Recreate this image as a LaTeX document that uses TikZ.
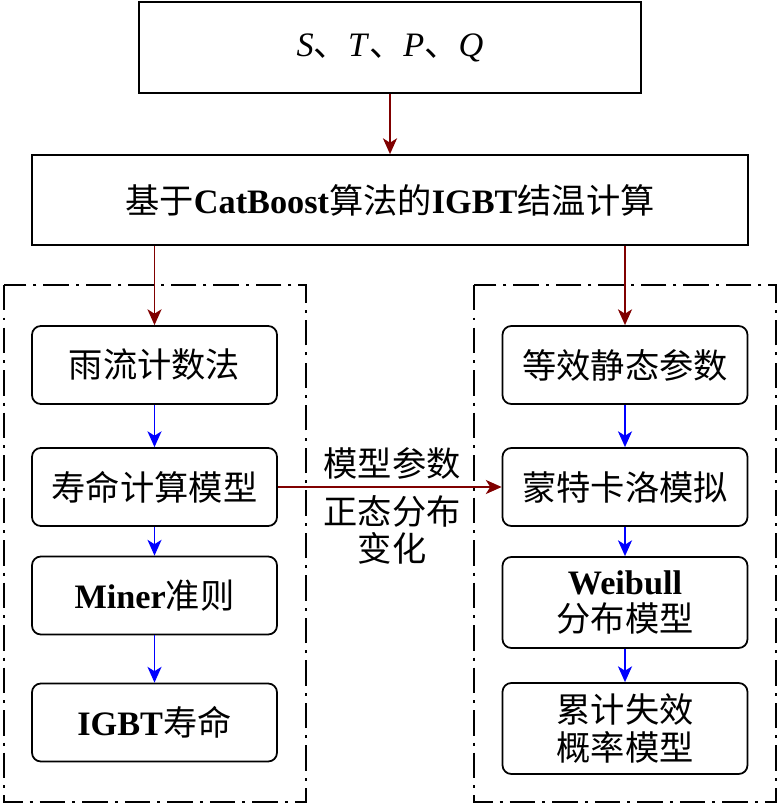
\documentclass[tikz,border=0pt]{standalone}
\usepackage{fontspec}
\setmainfont{Liberation Serif}
\newfontfamily\cjk{Noto Sans CJK SC}
\usetikzlibrary{arrows.meta,positioning}
\definecolor{FlowRed}{HTML}{800000}
\definecolor{FlowBlue}{HTML}{0000FF}
\newcommand{\zh}[1]{{\cjk #1}}
\tikzset{
  every picture/.append style={font=\fontsize{19.5}{21.5}\selectfont, >=Stealth},
  blk/.style={rectangle, draw=black, line width=1pt, align=center, inner sep=2pt},
  sqbox/.style={blk, minimum height=1.8cm},
  rbox/.style={blk, rounded corners=5pt, minimum width=4.9cm, minimum height=1.56cm},
  tbox/.style={rbox, minimum height=1.82cm},
  lbl/.style={align=center, inner sep=1pt},
  flowR/.style={-{Stealth[length=9pt,width=8pt,inset=2.5pt]}, line width=1pt, draw=FlowRed},
  flowB/.style={-{Stealth[length=9pt,width=8pt,inset=2.5pt]}, line width=1pt, draw=FlowBlue},
  grp/.style={draw=black, line width=1.1pt, dash pattern=on 14.5pt off 4pt on 1.7pt off 4pt},
}
\begin{document}
\begin{tikzpicture}[x=0.02cm,y=-0.02cm]
\useasboundingbox (0,0) rectangle (781,808);

% ---------------- group backdrops -------------------------------------------------
\draw[grp] (4,285) rectangle (306,802);
\draw[grp] (474,285) rectangle (776,802);

% ---------------- input and junction temperature -----------------------------------
\node[sqbox, minimum width=10.04cm, minimum height=1.82cm] (inp) at (390,47.5)
  {\textit{S}\zh{、}\textit{T}\zh{、}\textit{P}\zh{、}\textit{Q}};
\node[sqbox, minimum width=14.32cm] (tj) at (390,200)
  {\zh{基于}\textbf{CatBoost}\zh{算法的}\textbf{IGBT}\zh{结温计算}};
\draw[flowR] (inp) -- (tj);

% ---------------- left: lifetime chain ---------------------------------------------
\node[rbox] (rain) at (154.5,365) {\zh{雨流计数法}};
\node[rbox] (life) at (154.5,487) {\zh{寿命计算模型}};
\node[rbox] (miner) at (154.5,595.5) {\textbf{Miner}\zh{准则}};
\node[rbox] (igbt) at (154.5,722.5) {\textbf{IGBT}\zh{寿命}};
\draw[flowR] (tj.south -| rain.north) -- (rain.north);
\draw[flowB] (rain) -- (life);
\draw[flowB] (life) -- (miner);
\draw[flowB] (miner) -- (igbt);

% ---------------- right: failure probability chain -------------------------------
\node[rbox] (equ) at (625,365) {\zh{等效静态参数}};
\node[rbox] (mc) at (625,487) {\zh{蒙特卡洛模拟}};
\node[tbox] (wbl) at (625,602.5) {\textbf{Weibull}\\\zh{分布模型}};
\node[tbox] (cdf) at (625,728.5) {\zh{累计失效}\\\zh{概率模型}};
\draw[flowR] (tj.south -| equ.north) -- (equ.north);
\draw[flowB] (equ) -- (mc);
\draw[flowB] (mc) -- (wbl);
\draw[flowB] (wbl) -- (cdf);

% ---------------- parameter link ---------------------------------------------------
\draw[flowR] (life) -- (mc);
\node[lbl] (par) at (392,463) {\zh{模型参数}};
\node[lbl] (dist) at (392,530) {\zh{正态分布}\\\zh{变化}};

\end{tikzpicture}
\end{document}
